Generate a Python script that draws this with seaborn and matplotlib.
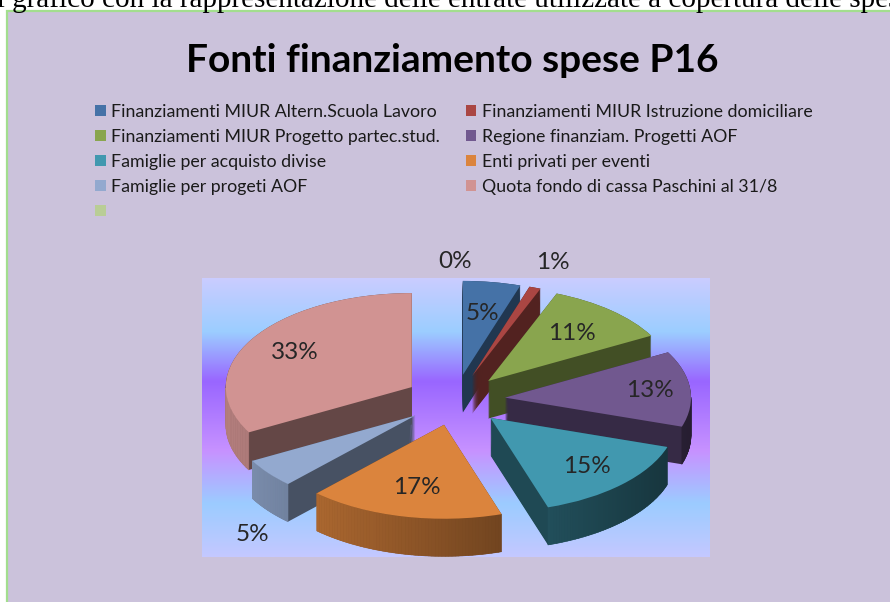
import numpy as np
import matplotlib
matplotlib.use("Agg")
import matplotlib.pyplot as plt
import matplotlib.colors as mcolors
from matplotlib.patches import Rectangle
from matplotlib.collections import PolyCollection
import seaborn as sns

# data (percentages as shown on the chart)
categories = [
    "Finanziamenti MIUR Altern.Scuola Lavoro",
    "Finanziamenti MIUR Istruzione domiciliare",
    "Finanziamenti MIUR Progetto partec.stud.",
    "Regione finanziam. Progetti AOF",
    "Famiglie per acquisto divise",
    "Enti privati per eventi",
    "Famiglie per progeti AOF",
    "Quota fondo di cassa Paschini al 31/8",
    "",
]
values = [5, 1, 11, 13, 15, 17, 5, 33, 0]
slice_colors = ["#4572A7", "#AA4643", "#89A54E", "#71588F", "#4198AF",
                "#DB843D", "#93A9CF", "#D19392", "#B9CD96"]

title = "Fonti finanziamento spese P16"
doc_text = "Il grafico con la rappresentazione delle entrate utilizzate a copertura delle spese"

# style
explode = [0.27] * len(values)
depth = 0.40          # thickness of the 3d pie, y data units
label_dist = [0.93, 1.55, 0.95, 1.05, 1.0, 0.95, 1.8, 1.0, 1.47]
label_shift = [0, 0, 0, 0, 0, 0, -15, 0, 0]

sns.set_style("white")
plt.rcParams["font.family"] = ["Lato", "DejaVu Sans"]

W, H = 890, 602
fig = plt.figure(figsize=(W / 100, H / 100), dpi=100)
fig.patch.set_facecolor("white")

# chart area (lavender with green border)
fig.add_artist(Rectangle((7 / W, -0.05), 1.0, 1 - 11 / H + 0.05,
                         transform=fig.transFigure, facecolor="#CBC2DB",
                         edgecolor="#A3DE8E", lw=1.6, zorder=-1))

# the doc sentence cut at the top
fig.text(-13 / W, 1 - 7 / H, doc_text, family=["Liberation Serif", "DejaVu Serif"],
         fontsize=21, va="baseline", ha="left", color="black")

fig.text(452 / W, 1 - 72 / H, title, ha="center", va="baseline",
         fontsize=28, fontweight="bold", color="black")

# plot area
ax = fig.add_axes([202 / W, 1 - 557 / H, 508 / W, 279 / H])
xlim = (-253 / 186, 255 / 186)
ylim = (-157 / 94, 122 / 94)

grad = mcolors.LinearSegmentedColormap.from_list(
    "bg", [(0, "#CACCFF"), (0.19, "#9CCEFF"), (0.37, "#9966FF"),
           (0.62, "#C792FF"), (0.81, "#9CCCFF"), (1, "#C4C8FF")])
ax.imshow(np.linspace(0, 1, 256).reshape(-1, 1), cmap=grad, aspect="auto",
          extent=(xlim[0], xlim[1], ylim[0], ylim[1]), zorder=0)

vals = np.array(values, dtype=float)
total = vals.sum()
cum = np.cumsum(vals)
th_start = 360 * (cum - vals) / total     # clockwise from top
th_end = 360 * cum / total
th_mid = (th_start + th_end) / 2
a_mid = np.radians(90 - th_mid)
rank = np.empty(len(vals), dtype=int)
rank[np.argsort(-np.sin(a_mid))] = np.arange(len(vals))


def shade(c, f):
    return tuple(np.array(mcolors.to_rgb(c)) * f)


side_colors = [shade(c, 0.48) for c in slice_colors]
pie_kw = dict(explode=explode, startangle=90, counterclock=False,
              labeldistance=None, wedgeprops=dict(linewidth=0))

# side walls: stacked copies of the pie
for dy in np.linspace(-depth, 0, 40):
    wedges, _ = ax.pie(vals, colors=side_colors, center=(0, dy), **pie_kw)
    for j, w in enumerate(wedges):
        w.set_zorder(2 + rank[j])

# outer curved wall, lit from the left
for j in range(len(vals)):
    if vals[j] == 0:
        continue
    ex = explode[j] * np.cos(a_mid[j])
    ey = explode[j] * np.sin(a_mid[j])
    a = np.radians(np.linspace(90 - th_start[j], 90 - th_end[j], 60))
    polys, cols = [], []
    for a0, a1 in zip(a[:-1], a[1:]):
        am = (a0 + a1) / 2
        if np.sin(am) >= 0:
            continue
        p0 = (ex + np.cos(a0), ey + np.sin(a0))
        p1 = (ex + np.cos(a1), ey + np.sin(a1))
        polys.append([p0, p1, (p1[0], p1[1] - depth), (p0[0], p0[1] - depth)])
        cols.append(shade(slice_colors[j], 0.6 - 0.26 * np.cos(am)))
    if polys:
        ax.add_collection(PolyCollection(polys, facecolors=cols, edgecolors=cols,
                                         linewidths=0.4, zorder=2 + rank[j] + 0.5))

# top faces
tops, _ = ax.pie(vals, colors=slice_colors, center=(0, 0), **pie_kw)
for j, w in enumerate(tops):
    w.set_zorder(2 + rank[j] + 0.8)

# percentage labels
for j in range(len(vals)):
    th = np.radians(th_mid[j] + label_shift[j])
    r = label_dist[j]
    ax.text(r * np.sin(th), r * np.cos(th), f"{vals[j] / total * 100:.0f}%",
            ha="center", va="center", fontsize=17.5, color="#262626", zorder=30)

ax.set_aspect("auto")
ax.set_xlim(*xlim)
ax.set_ylim(*ylim)
ax.set_axis_off()

# legend, filled row by row like the original
order = [0, 2, 4, 6, 8, 1, 3, 5, 7]
fig.legend([tops[i] for i in order], [categories[i] for i in order], ncol=2,
           loc="upper left", bbox_to_anchor=(95 / W, 1 - 104 / H),
           frameon=False, fontsize=12.8, handlelength=0.6, handleheight=0.6,
           handletextpad=0.3, columnspacing=1.45, labelspacing=0.5,
           borderpad=0, borderaxespad=0, labelcolor="#1A1A1A")

fig.savefig("out.png", dpi=100)
